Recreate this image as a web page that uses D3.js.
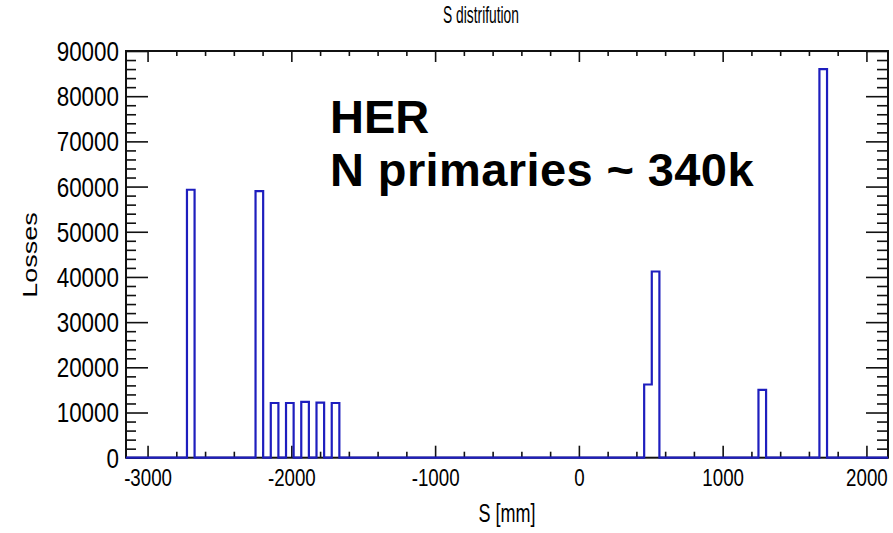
<!DOCTYPE html>
<html>
<head>
<meta charset="utf-8">
<script src="https://cdn.jsdelivr.net/npm/d3@7"></script>
<style>
  body { margin: 0; background: #fff; }
  svg { display: block; }
  text { font-family: "Liberation Sans", Arial, Helvetica, sans-serif; fill: #000; }
</style>
</head>
<body>
<svg id="chart" width="893" height="533"></svg>
<script>
// Histogram definition: 100 bins of 53 mm between -3150 and 2150 mm
const histMin = -3150;
const histMax = 2150;
const binWidth = 53;

// Filled bins (lower edge in mm) and their loss counts
const binLowEdges = [-2726, -2249, -2143, -2037, -1931, -1825, -1719, 454, 507, 1249, 1673];
const losses      = [59300, 59000, 12100, 12100, 12350, 12200, 12100, 16200, 41200, 15000, 86000];

// Axis ticks
const xTicks = [-3000, -2000, -1000, 0, 1000, 2000];
const yTicks = [0, 10000, 20000, 30000, 40000, 50000, 60000, 70000, 80000, 90000];
const xMinorStep = 200;
const yMinorStep = 2000;
const yMax = 90000;

const plot = { left: 126, right: 888, top: 51, bottom: 457.7 };
const svg = d3.select("#chart");

const x = d3.scaleLinear().domain([histMin, histMax]).range([plot.left, plot.right]);
const y = d3.scaleLinear().domain([0, yMax]).range([plot.bottom, plot.top]);

const xMinor = d3.range(-3000, histMax + 1, xMinorStep).filter(v => !xTicks.includes(v));
const yMinor = d3.range(0, yMax + 1, yMinorStep).filter(v => !yTicks.includes(v));

// Plain integer labels with an ASCII hyphen for negatives
const intLabel = d => String(d);

// Dense bin contents built from the filled bins
const nBins = Math.round((histMax - histMin) / binWidth);
const counts = new Array(nBins).fill(0);
binLowEdges.forEach((lo, i) => {
  counts[Math.round((lo - histMin) / binWidth)] = losses[i];
});
const steps = [[histMin, 0]];
counts.forEach((c, i) => steps.push([histMin + i * binWidth, c]));
steps.push([histMax, counts[nBins - 1]]);
steps.push([histMax, 0]);

const tickStyle = g => {
  g.select(".domain").remove();
  g.selectAll(".tick line").attr("stroke", "#111").attr("stroke-width", 1.6);
};

// Minor ticks on all four sides
svg.append("g").attr("transform", `translate(${plot.left},0)`)
  .call(d3.axisLeft(y).tickValues(yMinor).tickSize(-10).tickFormat(""))
  .call(tickStyle);
svg.append("g").attr("transform", `translate(${plot.right},0)`)
  .call(d3.axisRight(y).tickValues(yMinor).tickSize(-11).tickFormat(""))
  .call(tickStyle);
svg.append("g").attr("transform", `translate(0,${plot.bottom})`)
  .call(d3.axisBottom(x).tickValues(xMinor).tickSize(-6).tickFormat(""))
  .call(tickStyle);
svg.append("g").attr("transform", `translate(0,${plot.top})`)
  .call(d3.axisTop(x).tickValues(xMinor).tickSize(-5).tickFormat(""))
  .call(tickStyle);

// Major ticks and labels
svg.append("g").attr("transform", `translate(${plot.left},0)`)
  .call(d3.axisLeft(y).tickValues(yTicks).tickSize(-22).tickFormat(intLabel))
  .call(tickStyle)
  .call(g => g.selectAll(".tick text")
    .attr("x", 0).attr("dy", "0.35em")
    .attr("transform", "translate(-7,0) scale(0.83,1)")
    .style("font-size", "27px").attr("text-anchor", "end"));
svg.append("g").attr("transform", `translate(${plot.right},0)`)
  .call(d3.axisRight(y).tickValues(yTicks).tickSize(-22).tickFormat(""))
  .call(tickStyle);
svg.append("g").attr("transform", `translate(0,${plot.bottom})`)
  .call(d3.axisBottom(x).tickValues(xTicks).tickSize(-12).tickFormat(intLabel))
  .call(tickStyle)
  .call(g => g.selectAll(".tick text")
    .attr("y", 0).attr("dy", 0)
    .attr("transform", "translate(0,28.5) scale(0.78,1)")
    .style("font-size", "24px").attr("text-anchor", "middle"));
svg.append("g").attr("transform", `translate(0,${plot.top})`)
  .call(d3.axisTop(x).tickValues(xTicks).tickSize(-11).tickFormat(""))
  .call(tickStyle);

// Frame
svg.append("rect")
  .attr("x", plot.left).attr("y", plot.top)
  .attr("width", plot.right - plot.left).attr("height", plot.bottom - plot.top)
  .attr("fill", "none").attr("stroke", "#111").attr("stroke-width", 2);

// Histogram outline
svg.append("path")
  .datum(steps)
  .attr("d", d3.line().x(d => x(d[0])).y(d => y(d[1])).curve(d3.curveStepAfter))
  .attr("fill", "none")
  .attr("stroke", "#1e1ebe")
  .attr("stroke-width", 2.2);

// Titles
svg.append("text")
  .attr("transform", "translate(481,23) scale(0.6,1)")
  .attr("text-anchor", "middle").style("font-size", "23px")
  .text("S distrifution");
svg.append("text")
  .attr("transform", `translate(${(plot.left + plot.right) / 2},522) scale(0.72,1)`)
  .attr("text-anchor", "middle").style("font-size", "25px")
  .text("S [mm]");
svg.append("text")
  .attr("transform", "translate(37,255) rotate(-90) scale(1,0.72)")
  .attr("text-anchor", "middle").style("font-size", "27px")
  .text("Losses");

// Annotation
const note = svg.append("text")
  .attr("x", 330).style("font-size", "47px").style("font-weight", "bold");
note.append("tspan").attr("x", 330).attr("y", 133).text("HER");
note.append("tspan").attr("x", 330).attr("y", 186).attr("letter-spacing", "0.4px").text("N primaries ~ 340k");
</script>
</body>
</html>
